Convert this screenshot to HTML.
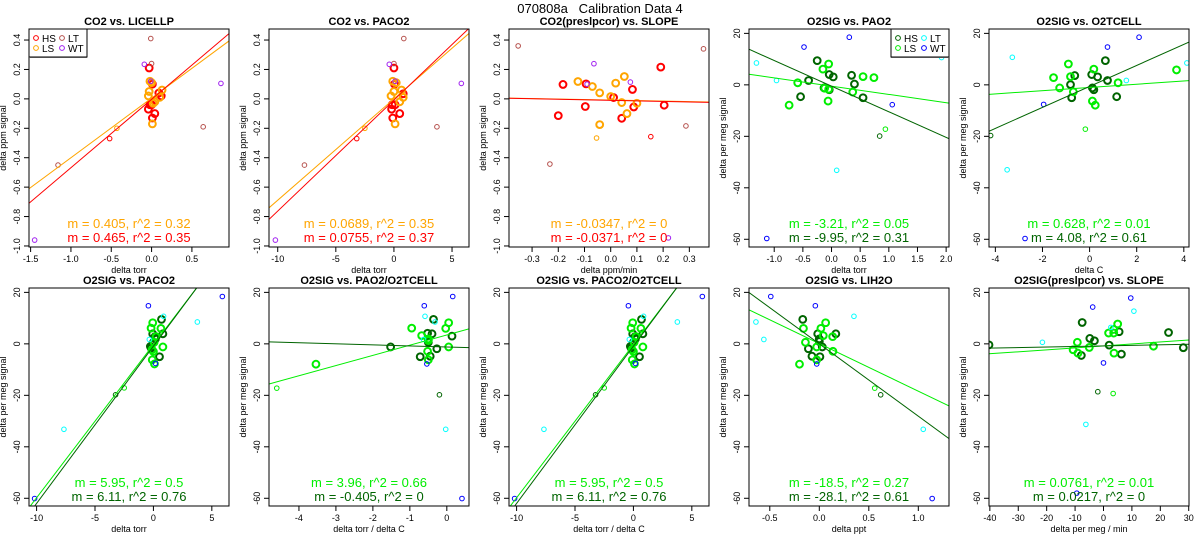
<!DOCTYPE html>
<html><head><meta charset="utf-8"><style>
body{margin:0;background:#fff;}
svg{display:block;font-family:"Liberation Sans",sans-serif;}
</style></head><body>
<svg id="chart" width="1200" height="550" viewBox="0 0 1200 550" xmlns="http://www.w3.org/2000/svg">
<rect width="1200" height="550" fill="#fff"/>
<text x="600" y="13" text-anchor="middle" font-size="13" style="white-space:pre">070808a   Calibration Data 4</text>
</svg>
<script>
// group codes: 0=HS, 1=LS, 2=HS excluded (thin), 3=LS excluded (thin), 4=LT, 5=WT
const p1x=[-0.03,0.01,-0.04,-0.02,0.01,0.04,0.12,0.09,0,-0.02,-0.03,-0.04,0.04,0.02,0.13,0.10,0.01,0,-0.01,0,-1.16,0.64,-0.52,-0.43,-0.09,-0.01,0.86,-1.45];
const p1y=[0.21,0.10,-0.07,-0.04,-0.13,-0.10,0.02,0.04,-0.04,0.12,0.05,0.02,-0.02,-0.03,0.06,0.01,-0.17,0.11,0.41,0.24,-0.45,-0.19,-0.27,-0.2,0.235,0.12,0.105,-0.96];
const p1g=[0,0,0,0,0,0,0,0,0,1,1,1,1,1,1,1,1,1,4,4,4,4,2,3,5,5,5,5];
const p2x=[0,0.05,-0.2,0.1,-0.1,0.5,0.8,-0.15,-0.1,0,-0.25,0.5,0.65,0.8,0.1,0.2,0.85,0,-7.7,3.7,-3.2,-2.5,-0.4,0.1,5.8,-10.2];
const p2y=[0.21,0.10,-0.07,-0.04,-0.13,-0.10,0.035,-0.04,0.12,0.05,0.02,-0.02,0.06,0.01,-0.17,0.11,0.41,0.24,-0.45,-0.19,-0.27,-0.2,0.235,0.12,0.105,-0.96];
const p2g=[0,0,0,0,0,0,0,0,1,1,1,1,1,1,1,1,4,4,4,4,2,3,5,5,5,5];
const p3x=[-0.182,-0.094,-0.2,-0.097,0.011,0.042,0.083,0.088,0.191,0.204,-0.125,-0.07,-0.042,-0.042,0,0.019,0.052,0.042,0.062,0.1,-0.353,0.354,-0.232,0.287,0.153,-0.054,-0.064,-0.09,0.075,0.22];
const p3y=[0.098,0.102,-0.114,-0.052,0.009,-0.132,0.064,-0.055,0.216,-0.043,0.118,0.084,0.041,-0.175,0.016,0.107,0.152,-0.025,-0.1,-0.03,0.36,0.34,-0.443,-0.184,-0.257,-0.266,0.239,0.1,0.114,-0.945];
const p3g=[0,0,0,0,0,0,0,0,0,0,1,1,1,1,1,1,1,1,1,1,4,4,4,4,2,3,5,5,5,5];
const p4x=[-0.25,-0.4,-0.54,-0.04,0.03,-0.13,-0.04,0.35,0.4,0.55,-0.05,-0.15,-0.59,-0.74,-0.05,-0.06,0.37,0.55,0.74,-0.12,0.84,0.94,-1.31,-0.96,0.09,1.92,-0.48,0.31,1.06,-1.13];
const p4y=[9.4,1.7,-4.6,4,3.1,-1.2,-1.9,3.7,0.3,-5,8.1,6.1,0.8,-7.9,-1.7,-6.3,-2.8,3.2,2.8,-1.3,-19.9,-17.2,8.5,1.7,-33.2,10.6,14.7,18.5,-7.7,-59.7];
const p4g=[0,0,0,0,0,0,0,0,0,0,1,1,1,1,1,1,1,1,1,1,2,3,4,4,4,4,5,5,5,5];
const p5x=[0.67,-0.63,0.09,0.34,-0.81,0.76,-0.76,0.12,0.18,1.15,-0.9,0.18,-1.53,-0.81,-1.27,-0.69,0.12,0.24,1.21,3.69,-4.2,-0.18,-3.28,-3.5,1.56,4.13,-1.95,0.76,2.1,-2.74];
const p5y=[9.4,3.6,4,3.1,0.1,1.7,-5,-1.2,-1.9,-4.6,8.1,6.1,2.8,3.2,-1.2,-2.7,-6.3,-7.9,0.8,5.8,-19.7,-17.2,10.7,-33,1.7,8.5,-7.6,14.7,18.5,-59.7];
const p5g=[0,0,0,0,0,0,0,0,0,0,1,1,1,1,1,1,1,1,1,1,2,3,4,4,4,4,5,5,5,5];
const p6x=[0.69,-0.06,0.81,0.14,0,-0.2,0.52,0.17,-0.26,-0.06,-0.2,0.64,0.81,0,-0.1,0.09,0.23,0.06,-0.12,-3.24,-2.5,-0.35,0.87,3.76,-7.66,-0.43,5.9,0.17,-10.17];
const p6y=[9.5,3.9,3.9,2.8,0.6,-1.6,-5,1.9,-1.0,8.2,6.1,6,-1.2,-3,-6.2,-7.8,2.8,0.6,-2.3,-19.8,-17.1,1.7,10.7,8.5,-33.2,14.8,18.4,-7.6,-60.1];
const p6g=[0,0,0,0,0,0,0,0,0,1,1,1,1,1,1,1,1,1,1,2,3,4,4,4,4,5,5,5,5];
const p7x=[-0.36,-0.4,-0.52,0.14,-0.5,-0.27,-0.45,-0.72,-1.52,0.05,-0.03,-0.95,-0.68,0.05,-0.52,-0.5,-0.5,-0.5,-3.54,-0.2,-4.6,-0.59,-0.32,-0.63,-0.03,-0.61,0.16,-0.54,0.41];
const p7y=[9.5,3.9,4.1,3,0.6,-1.9,-4.8,-5,-1.2,8.2,6,6.1,3.2,-1.2,-2.9,-6.2,1.9,1.3,-7.9,-19.8,-17.2,10.7,8.5,1.7,-33.2,14.8,18.4,-7.8,-60.1];
const p7g=[0,0,0,0,0,0,0,0,0,1,1,1,1,1,1,1,1,1,1,2,3,4,4,4,4,5,5,5,5];
const p9x=[-0.167,-0.016,0.167,0,0,-0.11,-0.074,0.006,0.03,0.064,0.016,-0.16,0.04,0.135,-0.026,0.138,-0.026,-0.2,-0.14,0.62,0.56,-0.64,-0.56,0.35,1.05,-0.49,-0.04,-0.026,1.14];
const p9y=[9.5,3.9,3.9,1.9,0.9,-1.9,-4.8,-5,-1.2,8.2,6,6,3.2,2.8,-1.2,-2.9,-6.2,-7.9,0.6,-19.8,-17.2,8.5,1.7,10.7,-33.2,18.4,14.8,-7.8,-60.1];
const p9g=[0,0,0,0,0,0,0,0,0,1,1,1,1,1,1,1,1,1,1,2,3,4,4,4,4,5,5,5,5];
const p10x=[-40.3,-7.5,-4.8,-3.2,-7.8,2,5.5,6.3,22.9,28.1,-9.2,-10.7,-9,-5,1.8,3.6,3.6,5,3.7,17.6,-2,3.4,-21.5,2.6,10.7,-6.2,-3.8,9.6,0,-9.4];
const p10y=[-0.4,8.3,2.1,1.2,-4.5,-0.5,4.7,-4,4.4,-1.5,0.6,-2.3,-3.6,-1.4,4.2,5.6,4.2,7.7,-3.6,-0.9,-18.6,-19.3,0.6,6.4,12.7,-31.3,14.3,17.8,-7.4,-58];
const p10g=[0,0,0,0,0,0,0,0,0,0,1,1,1,1,1,1,1,1,1,1,2,3,4,4,4,4,5,5,5,5];
// fit lines: [slope, intercept] for HS and LS
const fitHSm=[0.465,0.0755,-0.0371,-9.95,4.08,6.11,-0.405,6.11,-28.1,0.0217];
const fitHSb=[-0.003,-0.008,-0.01,-0.5,-0.6,-0.9,-1.2,-0.9,0,-0.8];
const fitLSm=[0.405,0.0689,-0.0347,-3.21,0.628,5.95,3.96,5.95,-18.5,0.0761];
const fitLSb=[0.005,0,-0.008,-0.5,-1.0,-0.3,3.45,-0.3,0.1,-0.8];
const labHS=["m = 0.465, r^2 = 0.35","m = 0.0755, r^2 = 0.37","m = -0.0371, r^2 = 0","m = -9.95, r^2 = 0.31","m = 4.08, r^2 = 0.61","m = 6.11, r^2 = 0.76","m = -0.405, r^2 = 0","m = 6.11, r^2 = 0.76","m = -28.1, r^2 = 0.61","m = 0.0217, r^2 = 0"];
const labLS=["m = 0.405, r^2 = 0.32","m = 0.0689, r^2 = 0.35","m = -0.0347, r^2 = 0","m = -3.21, r^2 = 0.05","m = 0.628, r^2 = 0.01","m = 5.95, r^2 = 0.5","m = 3.96, r^2 = 0.66","m = 5.95, r^2 = 0.5","m = -18.5, r^2 = 0.27","m = 0.0761, r^2 = 0.01"];
const titles=["CO2 vs. LICELLP","CO2 vs. PACO2","CO2(preslpcor) vs. SLOPE","O2SIG vs. PAO2","O2SIG vs. O2TCELL","O2SIG vs. PACO2","O2SIG vs. PAO2/O2TCELL","O2SIG vs. PACO2/O2TCELL","O2SIG vs. LIH2O","O2SIG(preslpcor) vs. SLOPE"];
const xlabels=["delta torr","delta torr","delta ppm/min","delta torr","delta C","delta torr","delta torr / delta C","delta torr / delta C","delta ppt","delta per meg / min"];
const xticks=[[-1.5,-1.0,-0.5,0.0,0.5],[-10,-5,0,5],[-0.3,-0.2,-0.1,0.0,0.1,0.2,0.3],[-1.0,-0.5,0.0,0.5,1.0,1.5,2.0],[-4,-2,0,2,4],[-10,-5,0,5],[-4,-3,-2,-1,0],[-10,-5,0,5],[-0.5,0.0,0.5,1.0],[-40,-30,-20,-10,0,10,20,30]];
const xtickLab=[["-1.5","-1.0","-0.5","0.0","0.5"],null,["-0.3","-0.2","-0.1","0.0","0.1","0.2","0.3"],["-1.0","-0.5","0.0","0.5","1.0","1.5","2.0"],null,null,null,null,["-0.5","0.0","0.5","1.0"],null];
const xmin=[-1.52,-10.75,-0.388,-1.44,-4.27,-10.65,-4.81,-10.65,-0.71,-40.3];
const xmax=[0.96,6.46,0.375,2.05,4.22,6.47,0.60,6.47,1.31,30.1];
const co2Ticks=[0.4,0.2,0.0,-0.2,-0.4,-0.6,-0.8,-1.0];
const o2Ticks=[20,0,-20,-40,-60];
const PX=[p1x,p2x,p3x,p4x,p5x,p6x,p7x,p6x,p9x,p10x];
const PY=[p1y,p2y,p3y,p4y,p5y,p6y,p7y,p6y,p9y,p10y];
const PG=[p1g,p2g,p3g,p4g,p5g,p6g,p7g,p6g,p9g,p10g];

const NS="http://www.w3.org/2000/svg";
const svg=document.getElementById('chart');
function mk(tag,attrs,parent){const e=document.createElementNS(NS,tag);for(const k in attrs)e.setAttribute(k,attrs[k]);(parent||svg).appendChild(e);return e;}
const co2Col=["#ff0000","#ffa500","#ff0000","#ffa500","#b5504c","#a020f0"];
const o2Col=["#006400","#00ee00","#006400","#00ee00","#00ffff","#0000ff"];
const defs=mk('defs',{});
for(let i=0;i<10;i++){
  const col=i%5,row=Math.floor(i/5);
  const L=col*240+29,R=L+200,T=row?288:29,B=row?506:247;
  const co2=i<3;
  const ymn=co2?-1.007:-63, ymx=co2?0.475:21.7;
  const sx=v=>L+(v-xmin[i])/(xmax[i]-xmin[i])*(R-L);
  const sy=v=>B-(v-ymn)/(ymx-ymn)*(B-T);
  const g=mk('g',{});
  
  
  const cp=mk('clipPath',{id:'cp'+i},defs);mk('rect',{x:L,y:T,width:R-L,height:B-T},cp);
  const t=mk('text',{x:(L+R)/2,y:T-4,'text-anchor':'middle','font-size':11,'font-weight':'bold'},g);t.textContent=titles[i];
  
  
  const cols=co2?co2Col:o2Col;
  const pg=mk('g',{'clip-path':'url(#cp'+i+')'},g);
  for(let k=0;k<PX[i].length;k++){
    const gr=PG[i][k],thick=gr<2;
    const c=mk('circle',{cx:sx(PX[i][k]),cy:sy(PY[i][k]),r:thick?3.4:2.3,fill:'none',stroke:cols[gr],'stroke-width':thick?2:1},pg);
    
    
  }
  [[fitLSm[i],fitLSb[i],cols[1]],[fitHSm[i],fitHSb[i],cols[0]]].forEach(f=>{
    const l=mk('line',{x1:sx(xmin[i]),y1:sy(f[1]+f[0]*xmin[i]),x2:sx(xmax[i]),y2:sy(f[1]+f[0]*xmax[i]),stroke:f[2],'stroke-width':1},pg);
    
    
  });
  mk('rect',{x:L,y:T,width:R-L,height:B-T,fill:'none',stroke:'#000','stroke-width':1},g);
  const xt=xticks[i];
  mk('line',{x1:sx(xt[0]),y1:B,x2:sx(xt[xt.length-1]),y2:B,stroke:'#000'},g);
  xt.forEach((v,j)=>{
    mk('line',{x1:sx(v),y1:B,x2:sx(v),y2:B+5,stroke:'#000'},g);
    const tx=mk('text',{x:sx(v),y:B+15,'text-anchor':'middle','font-size':9},g);
    tx.textContent=xtickLab[i]?xtickLab[i][j]:String(v);
  });
  const xl=mk('text',{x:(L+R)/2,y:B+26,'text-anchor':'middle','font-size':9},g);xl.textContent=xlabels[i];
  
  
  const yt=co2?co2Ticks:o2Ticks;
  mk('line',{x1:L,y1:sy(yt[0]),x2:L,y2:sy(yt[yt.length-1]),stroke:'#000'},g);
  yt.forEach(v=>{
    mk('line',{x1:L,y1:sy(v),x2:L-5,y2:sy(v),stroke:'#000'},g);
    const ty=mk('text',{x:L-9,y:sy(v),'text-anchor':'middle','font-size':9,transform:`rotate(-90 ${L-9} ${sy(v)})`},g);
    ty.textContent=co2?v.toFixed(1):String(v);
  });
  const yl=mk('text',{x:L-23,y:(T+B)/2,'text-anchor':'middle','font-size':9,transform:`rotate(-90 ${L-23} ${(T+B)/2})`},g);
  yl.textContent=co2?'delta ppm signal':'delta per meg signal';
  
  
  const a1=mk('text',{x:(L+R)/2,y:B-19,'text-anchor':'middle','font-size':13,fill:cols[1]},g);a1.textContent=labLS[i];
  
  
  const a2=mk('text',{x:(L+R)/2,y:B-5,'text-anchor':'middle','font-size':13,fill:cols[0]},g);a2.textContent=labHS[i];
  
  
  if(i===0||i===3){
    const lx=i===0?L:R-58, ly=T;
    const lg=mk('g',{},g);
    
    
    mk('rect',{x:lx,y:ly+27,width:58,height:2,fill:'#999'},lg);
    mk('rect',{x:lx,y:ly,width:58,height:28,fill:'#fff',stroke:'#000'},lg);
    const names=['HS','LS','LT','WT'],gi=[0,1,4,5];
    names.forEach((n,j)=>{
      const cx=lx+(j<2?7:33),cy=ly+9+(j%2)*10;
      mk('circle',{cx:cx,cy:cy,r:2.4,fill:'none',stroke:cols[gi[j]],'stroke-width':1},lg);
      const tt=mk('text',{x:cx+6,y:cy+4,'font-size':10},lg);tt.textContent=n;
      
      
    });
  }
}
</script>
</body></html>
